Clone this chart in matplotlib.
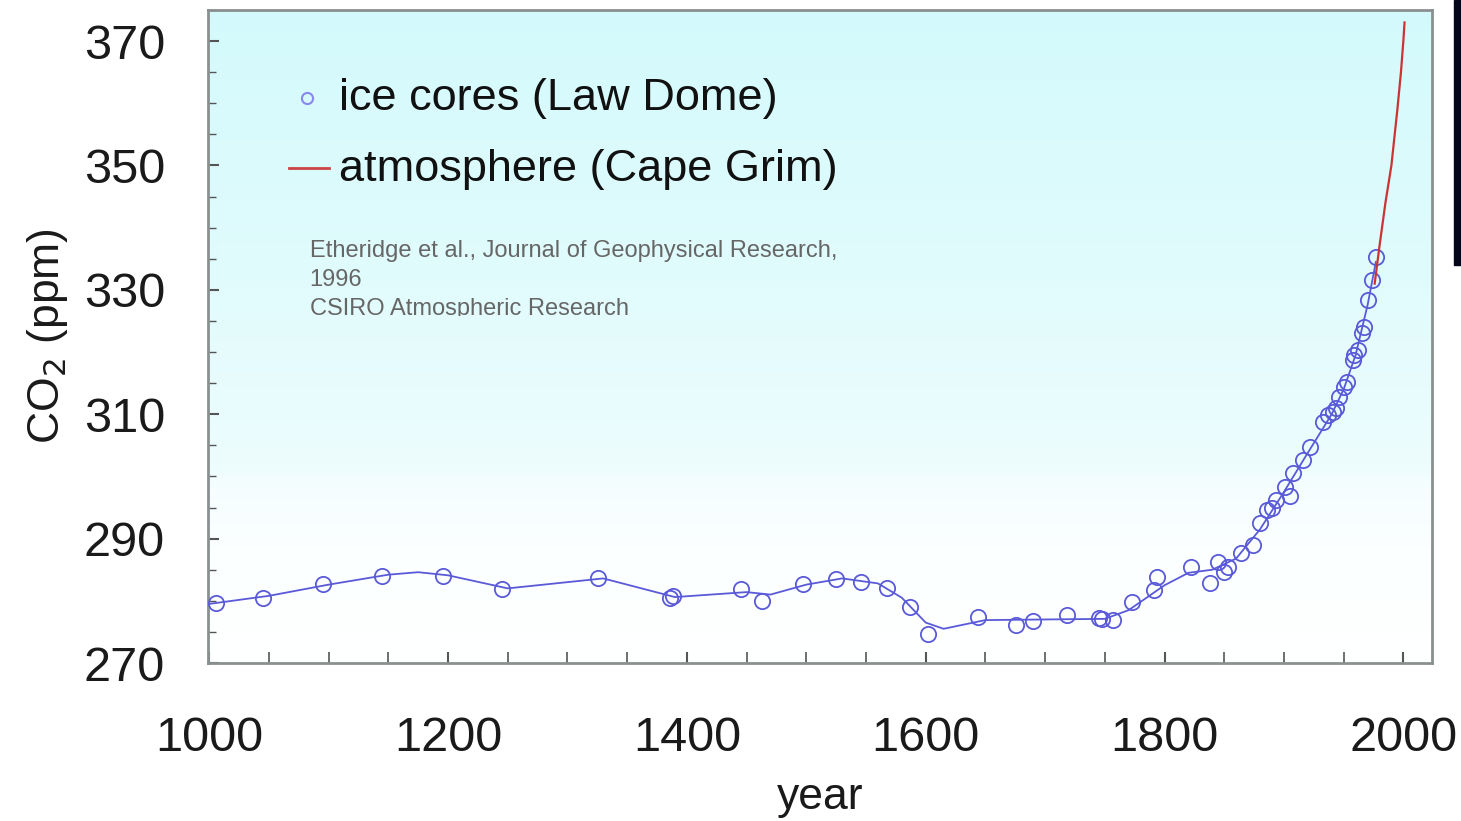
import numpy as np
import matplotlib
matplotlib.use("Agg")
import matplotlib.pyplot as plt
from matplotlib.ticker import MultipleLocator
from matplotlib.patches import Rectangle
from matplotlib.colors import LinearSegmentedColormap

# ice core samples (Law Dome)
ice_years = [1006, 1045, 1095, 1145, 1196, 1245, 1326, 1386, 1388, 1445, 1463,
             1497, 1525, 1546, 1568, 1587, 1602, 1644, 1676, 1690, 1718, 1745,
             1748, 1757, 1773, 1791, 1794, 1822, 1838, 1845, 1850, 1853, 1864,
             1874, 1880, 1886, 1890, 1893, 1901, 1905, 1908, 1916, 1922, 1933,
             1937, 1941, 1944, 1946, 1950, 1953, 1958, 1959, 1962, 1965, 1967,
             1970, 1974, 1977]
ice_ppm = [279.7, 280.5, 282.7, 284.0, 284.0, 281.9, 283.7, 280.5, 280.8, 281.9, 280.0,
           282.7, 283.5, 283.0, 282.1, 279.0, 274.7, 277.4, 276.1, 276.8, 277.7, 277.2,
           277.0, 276.9, 279.8, 281.7, 283.8, 285.4, 282.9, 286.3, 284.6, 285.4, 287.7,
           289.0, 292.5, 294.6, 295.0, 296.2, 298.3, 296.8, 300.6, 302.7, 304.8, 308.8,
           309.8, 310.4, 311.0, 312.8, 314.4, 315.2, 318.8, 319.5, 320.4, 323.0, 324.1,
           328.4, 331.6, 335.3]

# spline fit through ice core data
fit_years = [1000, 1050, 1100, 1150, 1175, 1200, 1250, 1300, 1330, 1390, 1450, 1470,
             1500, 1530, 1560, 1580, 1600, 1615, 1650, 1700, 1750, 1770, 1800, 1820,
             1840, 1860, 1880, 1900, 1920, 1940, 1950, 1960, 1970, 1977]
fit_ppm = [279.5, 280.8, 282.6, 284.2, 284.6, 284.1, 282.0, 283.0, 283.6, 280.6, 281.4, 281.0,
           282.6, 283.6, 282.8, 280.5, 276.5, 275.5, 276.9, 277.0, 277.1, 278.5, 282.5, 284.5,
           285.0, 286.8, 291.5, 297.5, 303.8, 310.0, 314.0, 319.5, 327.5, 334.5]

# atmospheric record (Cape Grim)
atm_years = [1976, 1980, 1985, 1990, 1995, 1998, 2000, 2001]
atm_ppm = [331.0, 337.0, 344.0, 350.0, 359.0, 365.0, 370.0, 373.0]

x_ticks = [1000, 1200, 1400, 1600, 1800, 2000]
y_ticks = [270, 290, 310, 330, 350, 370]

plt.rcParams['font.family'] = ['Liberation Sans', 'DejaVu Sans']

fig = plt.figure(figsize=(14.61, 8.21), dpi=100)
ax = fig.add_axes([208 / 1461, 1 - 663 / 821, (1432 - 208) / 1461, (663 - 10) / 821])
ax.set_xlim(999, 2024)
ax.set_ylim(270, 375)

# gradient background
cmap = LinearSegmentedColormap.from_list(
    "bg", [(0.0, (1.0, 1.0, 1.0)), (0.18, (0.985, 1.0, 1.0)), (0.27, (0.96, 0.995, 1.0)),
           (0.30, (0.93, 0.99, 0.995)), (0.6, (0.88, 0.985, 0.99)), (1.0, (0.83, 0.98, 0.99))])
grad = np.linspace(0, 1, 256).reshape(-1, 1)
ax.imshow(grad, cmap=cmap, aspect='auto', extent=[999, 2024, 270, 375],
          origin='lower', zorder=0)

blue = '#5a5ad8'
ax.plot(fit_years, fit_ppm, color=blue, lw=1.3, zorder=2)
ax.plot(ice_years, ice_ppm, ls='none', marker='o', ms=11, mfc='none',
        mec=blue, mew=1.3, zorder=3)
ax.plot(atm_years, atm_ppm, color='#cc3333', lw=1.6, zorder=4)

# frame
for s in ax.spines.values():
    s.set_color('#8a9090')
    s.set_linewidth(2)

ax.set_xticks(x_ticks)
ax.set_yticks(y_ticks)
ax.xaxis.set_minor_locator(MultipleLocator(50))
ax.yaxis.set_minor_locator(MultipleLocator(5))
ax.tick_params(axis='both', which='both', direction='in', color='#555555')
ax.tick_params(axis='x', which='major', length=8, width=1.5, labelsize=35, pad=38)
ax.tick_params(axis='x', which='minor', length=8, width=1.2)
ax.tick_params(axis='y', which='major', length=8, width=1.5, labelsize=35, pad=31)
ax.tick_params(axis='y', which='minor', length=6, width=1.0)
for lab in ax.get_xticklabels() + ax.get_yticklabels():
    lab.set_color('#1a1a1a')

ax.set_xlabel('year', fontsize=32, color='#1a1a1a', labelpad=12)
ax.set_ylabel('CO$_2$ (ppm)', fontsize=32, color='#1a1a1a', labelpad=10)

# legend (drawn manually in axes)
ax.plot([1082], [360.9], marker='o', ms=8, mfc='none', mec='#8888ee', mew=1.5, zorder=5)
ax.plot([1067, 1100], [349.6, 349.6], color='#cc4444', lw=2, zorder=5)
ax.text(1109, 360.8, 'ice cores (Law Dome)', fontsize=32.5, va='center', ha='left',
        color='#111111')
ax.text(1109, 349.4, 'atmosphere (Cape Grim)', fontsize=32.5, va='center', ha='left',
        color='#111111')

cite = ax.text(1084, 338.0, 'Etheridge et al., Journal of Geophysical Research,\n1996\nCSIRO Atmospheric Research',
               fontsize=17, va='top', ha='left', color='#666666', linespacing=1.4)
clip = Rectangle((1000, 325.8), 600, 20, transform=ax.transData)
cite.set_clip_on(True)
cite.set_clip_path(clip)

# black strip at top right of image
fig.patches.append(Rectangle((1454 / 1461, 1 - 265 / 821), 7 / 1461, 265 / 821,
                             transform=fig.transFigure, color='#05051a', zorder=10))

fig.savefig('out.png', dpi=100)
